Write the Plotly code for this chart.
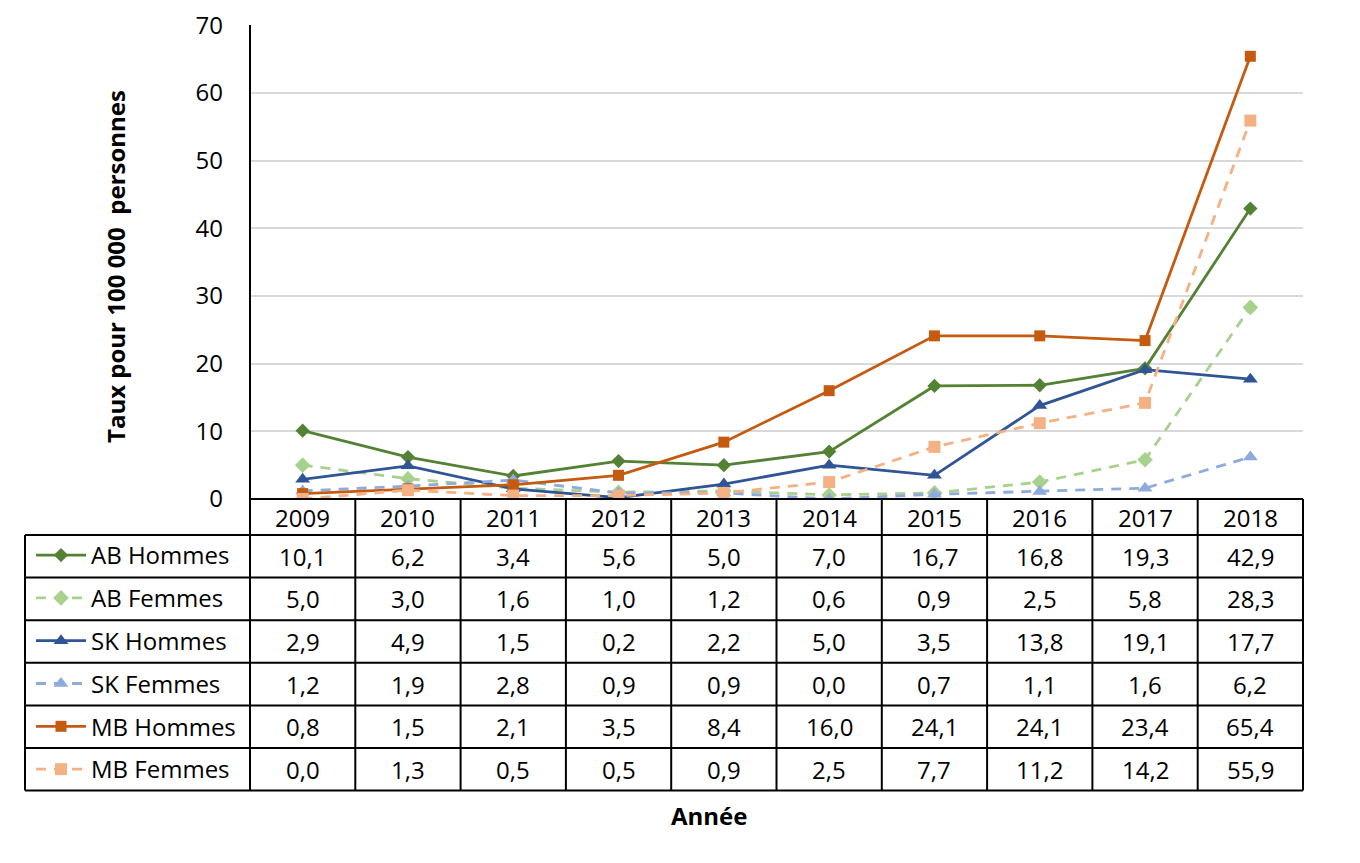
import plotly.graph_objects as go

years = [2009, 2010, 2011, 2012, 2013, 2014, 2015, 2016, 2017, 2018]
series_names = ["AB Hommes", "AB Femmes", "SK Hommes", "SK Femmes", "MB Hommes", "MB Femmes"]
ab_hommes = [10.1, 6.2, 3.4, 5.6, 5.0, 7.0, 16.7, 16.8, 19.3, 42.9]
ab_femmes = [5.0, 3.0, 1.6, 1.0, 1.2, 0.6, 0.9, 2.5, 5.8, 28.3]
sk_hommes = [2.9, 4.9, 1.5, 0.2, 2.2, 5.0, 3.5, 13.8, 19.1, 17.7]
sk_femmes = [1.2, 1.9, 2.8, 0.9, 0.9, 0.0, 0.7, 1.1, 1.6, 6.2]
mb_hommes = [0.8, 1.5, 2.1, 3.5, 8.4, 16.0, 24.1, 24.1, 23.4, 65.4]
mb_femmes = [0.0, 1.3, 0.5, 0.5, 0.9, 2.5, 7.7, 11.2, 14.2, 55.9]
y_ticks = [0, 10, 20, 30, 40, 50, 60, 70]

values = [ab_hommes, ab_femmes, sk_hommes, sk_femmes, mb_hommes, mb_femmes]
colors = ["#548235", "#A9D18E", "#2F5597", "#8FAADC", "#C55A11", "#F4B183"]
symbols = ["diamond", "diamond", "triangle-up", "triangle-up", "square", "square"]
dashes = ["solid", "10px,8px", "solid", "10px,8px", "solid", "10px,8px"]
msizes = [11, 12, 13, 13, 11, 12]

W, H = 1360, 863
OFF = 8  # page body margin
FONT = "Open Sans"
FS = 24
px_l, px_r = 250 - OFF, 1303 - OFF
py_t, py_b = 25 - OFF, 499 - OFF
tab_l = 25 - OFF
head_b = 535 - OFF
row_h = 42.6


def fx(x):
    return x / W


def fy(y):
    return 1 - y / H


fig = go.Figure()
for name, vals, c, s, d, ms in zip(series_names, values, colors, symbols, dashes, msizes):
    fig.add_trace(go.Scatter(
        x=years, y=vals, name=name, mode="lines+markers",
        line=dict(color=c, width=2.8, dash=d),
        marker=dict(symbol=s, size=ms, color=c),
        legendgroup=name,
    ))

shapes = []
line_style = dict(color="black", width=2)
shapes.append(dict(type="line", xref="paper", yref="paper", x0=fx(px_l), x1=fx(px_r),
                   y0=fy(py_b), y1=fy(py_b), line=line_style))
for i in range(len(series_names) + 1):
    yy = head_b + i * row_h
    shapes.append(dict(type="line", xref="paper", yref="paper", x0=fx(tab_l), x1=fx(px_r),
                       y0=fy(yy), y1=fy(yy), line=line_style))
tab_b = head_b + len(series_names) * row_h
col_w = (px_r - px_l) / len(years)
shapes.append(dict(type="line", xref="paper", yref="paper", x0=fx(tab_l), x1=fx(tab_l),
                   y0=fy(head_b), y1=fy(tab_b), line=line_style))
shapes.append(dict(type="line", xref="paper", yref="paper", x0=fx(px_l), x1=fx(px_l),
                   y0=fy(py_t), y1=fy(tab_b), line=line_style))
for k in range(1, len(years) + 1):
    xx = px_l + k * col_w
    shapes.append(dict(type="line", xref="paper", yref="paper", x0=fx(xx), x1=fx(xx),
                       y0=fy(py_b), y1=fy(tab_b), line=line_style))

cell_font = dict(size=FS, color="black", family=FONT)
annotations = []
for j, yr in enumerate(years):
    annotations.append(dict(x=yr, xref="x", y=fy((py_b + head_b) / 2), yref="paper",
                            xanchor="center", yanchor="middle",
                            text=str(yr), showarrow=False, font=cell_font))
for i, vals in enumerate(values):
    yc = head_b + (i + 0.5) * row_h
    for j, v in enumerate(vals):
        annotations.append(dict(x=years[j], xref="x", y=fy(yc), yref="paper",
                                xanchor="center", yanchor="middle",
                                text=f"{v:.1f}".replace(".", ","), showarrow=False,
                                font=cell_font))

annotations.append(dict(x=fx(709 - OFF), y=fy(815 - OFF), xref="paper", yref="paper", text="<b>Année</b>",
                        xanchor="center", yanchor="middle",
                        showarrow=False, font=dict(size=FS, color="black", family=FONT)))
annotations.append(dict(x=fx(115 - OFF), y=fy(267 - OFF), xref="paper", yref="paper",
                        xanchor="center", yanchor="middle",
                        text="<b>Taux pour 100 000  personnes</b>", textangle=-90,
                        showarrow=False, font=dict(size=24, color="black", family=FONT)))

fig.update_layout(
    width=W, height=H,
    margin=dict(l=0, r=0, t=0, b=0, autoexpand=False),
    paper_bgcolor="white", plot_bgcolor="white",
    font=dict(family=FONT, color="black", size=FS),
    xaxis=dict(domain=[fx(px_l), fx(px_r)], range=[2008.5, 2018.5], showticklabels=False,
               showgrid=False, zeroline=False, showline=False, fixedrange=True, automargin=False),
    yaxis=dict(domain=[fy(py_b), fy(py_t)], range=[0, 70.02], tickvals=y_ticks,
               showgrid=True, gridcolor="#D9D9D9", gridwidth=1.5, zeroline=False,
               showline=False, ticks="", ticklabelstandoff=26, automargin=False,
               ticklabeloverflow="allow",
               tickfont=dict(size=FS, family=FONT, color="black")),
    showlegend=True,
    legend=dict(x=fx(31 - OFF), xanchor="left", y=fy(533 - OFF), yanchor="top",
                bgcolor="rgba(0,0,0,0)", tracegroupgap=8.6, itemwidth=50,
                font=dict(size=FS, family=FONT, color="black"), traceorder="grouped"),
    shapes=shapes,
    annotations=annotations,
)

fig.write_html("out.html")
